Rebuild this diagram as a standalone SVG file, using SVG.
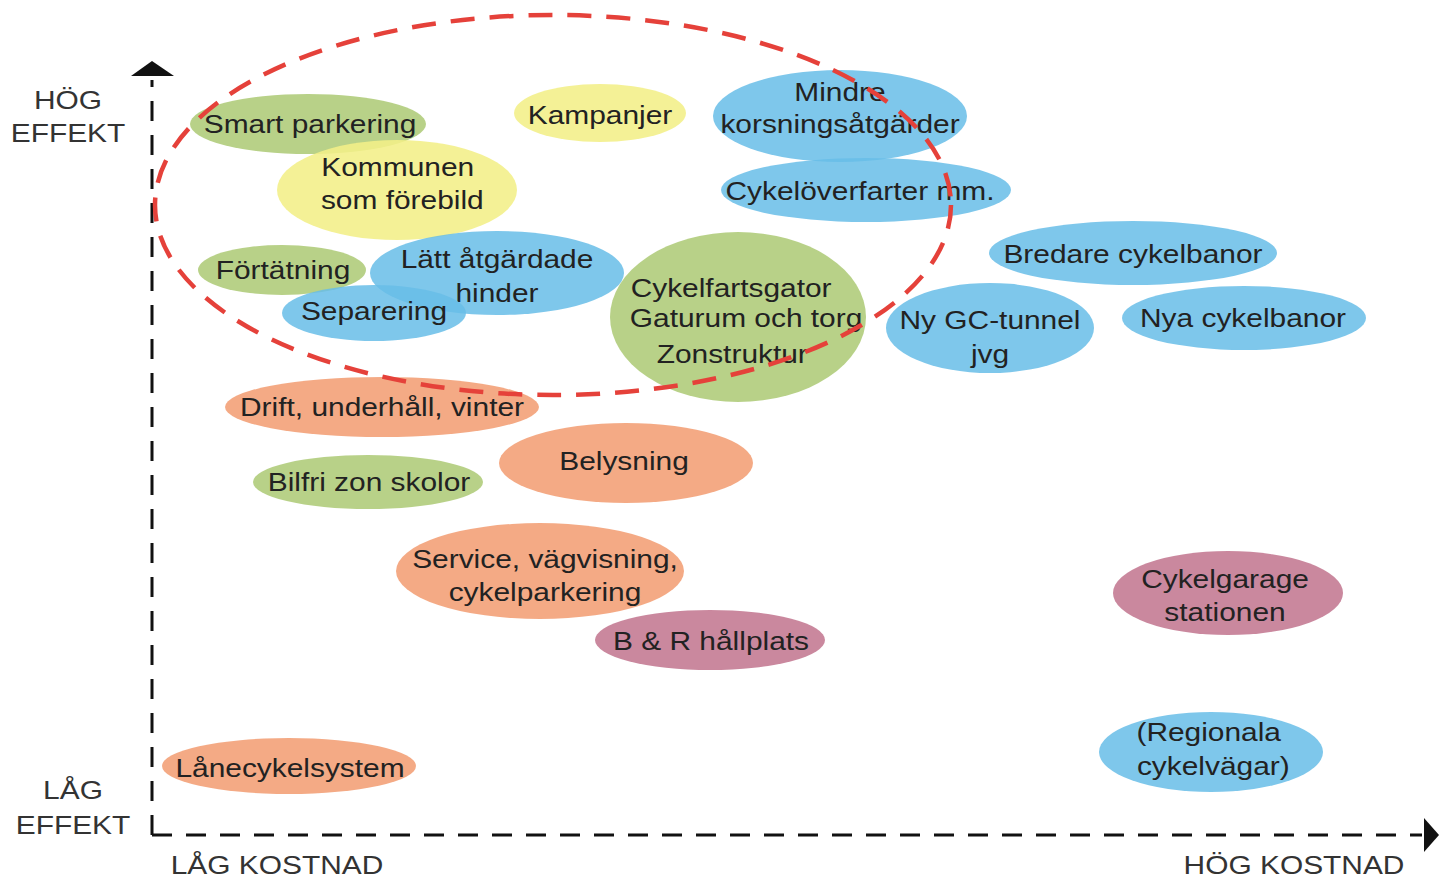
<svg xmlns="http://www.w3.org/2000/svg" width="1439" height="878" viewBox="0 0 1439 878">
<style>
text{font-family:"Liberation Sans",Arial,sans-serif;font-size:26px;fill:#222;text-anchor:middle}
.g{fill:#aecb77;fill-opacity:.88}
.y{fill:#f3ef88;fill-opacity:.88}
.b{fill:#67bde8;fill-opacity:.85}
.o{fill:#f29e74;fill-opacity:.88}
.m{fill:#c47b94;fill-opacity:.9}
.ax{stroke:#111;stroke-width:3;fill:none;stroke-dasharray:20 14}
.lab{fill:#333}
</style>
<rect width="1439" height="878" fill="#fff"/>
<g id="axes">
<line class="ax" x1="152" y1="835" x2="152" y2="80"/>
<line class="ax" x1="152" y1="835" x2="1422" y2="835"/>
<polygon points="131,76 174,76 152,61" fill="#111"/>
<polygon points="1424,818 1424,852 1439,835" fill="#111"/>
<g transform="translate(68,0) scale(1.15,1)"><text class="lab" y="109">HÖG</text><text class="lab" y="142">EFFEKT</text></g>
<g transform="translate(73,0) scale(1.15,1)"><text class="lab" y="799">LÅG</text><text class="lab" y="834">EFFEKT</text></g>
<g transform="translate(277,0) scale(1.15,1)"><text class="lab" y="874">LÅG KOSTNAD</text></g>
<g transform="translate(1294,0) scale(1.15,1)"><text class="lab" y="874">HÖG KOSTNAD</text></g>
</g>
<g id="n-smart"><ellipse class="g" cx="308" cy="124" rx="118" ry="30"/><g transform="translate(310,0) scale(1.15,1)"><text y="133">Smart parkering</text></g></g>
<g id="n-kampanjer"><ellipse class="y" cx="600" cy="113" rx="86" ry="29"/><g transform="translate(600,0) scale(1.15,1)"><text y="124">Kampanjer</text></g></g>
<g id="n-kommunen"><ellipse class="y" cx="397" cy="190" rx="120" ry="50"/><g transform="translate(400,0) scale(1.15,1)"><text x="-2" y="176">Kommunen</text><text x="2" y="209">som förebild</text></g></g>
<g id="n-cykeloverfarter"><ellipse class="b" cx="866" cy="190" rx="145" ry="32"/><g transform="translate(860,0) scale(1.15,1)"><text y="200">Cykelöverfarter mm.</text></g></g>
<g id="n-mindre"><ellipse class="b" cx="840" cy="116" rx="127" ry="46"/><g transform="translate(840,0) scale(1.15,1)"><text y="101">Mindre</text><text y="133">korsningsåtgärder</text></g></g>
<g id="n-fortatning"><ellipse class="g" cx="282" cy="270" rx="84" ry="25"/><g transform="translate(283,0) scale(1.15,1)"><text y="279">Förtätning</text></g></g>
<g id="n-latt"><ellipse class="b" cx="497" cy="273" rx="127" ry="42"/><g transform="translate(497,0) scale(1.15,1)"><text y="268">Lätt åtgärdade</text><text y="302">hinder</text></g></g>
<g id="n-separering"><ellipse class="b" cx="374" cy="313" rx="92" ry="28"/><g transform="translate(374,0) scale(1.15,1)"><text y="320">Separering</text></g></g>
<g id="n-cykelfart"><ellipse class="g" cx="738" cy="317" rx="128" ry="85"/><g transform="translate(738,0) scale(1.15,1)"><text x="-6" y="297">Cykelfartsgator</text><text x="7" y="327">Gaturum och torg</text><text x="-5" y="363">Zonstruktur</text></g></g>
<g id="n-bredare"><ellipse class="b" cx="1133" cy="253" rx="144" ry="32"/><g transform="translate(1133,0) scale(1.15,1)"><text y="263">Bredare cykelbanor</text></g></g>
<g id="n-nygc"><ellipse class="b" cx="990" cy="328" rx="104" ry="45"/><g transform="translate(990,0) scale(1.15,1)"><text y="329">Ny GC-tunnel</text><text y="363">jvg</text></g></g>
<g id="n-nya"><ellipse class="b" cx="1244" cy="318" rx="122" ry="32"/><g transform="translate(1243,0) scale(1.15,1)"><text y="327">Nya cykelbanor</text></g></g>
<g id="n-drift"><ellipse class="o" cx="382" cy="407" rx="157" ry="30"/><g transform="translate(382,0) scale(1.15,1)"><text y="416">Drift, underhåll, vinter</text></g></g>
<g id="n-belysning"><ellipse class="o" cx="626" cy="463" rx="127" ry="40"/><g transform="translate(624,0) scale(1.15,1)"><text y="470">Belysning</text></g></g>
<g id="n-bilfri"><ellipse class="g" cx="368" cy="482" rx="115" ry="27"/><g transform="translate(369,0) scale(1.15,1)"><text y="491">Bilfri zon skolor</text></g></g>
<g id="n-service"><ellipse class="o" cx="540" cy="571" rx="144" ry="48"/><g transform="translate(545,0) scale(1.15,1)"><text y="568">Service, vägvisning,</text><text y="601">cykelparkering</text></g></g>
<g id="n-br"><ellipse class="m" cx="710" cy="640" rx="115" ry="30"/><g transform="translate(711,0) scale(1.15,1)"><text y="650">B &amp; R hållplats</text></g></g>
<g id="n-cykelgarage"><ellipse class="m" cx="1228" cy="593" rx="115" ry="42"/><g transform="translate(1225,0) scale(1.15,1)"><text y="588">Cykelgarage</text><text y="621">stationen</text></g></g>
<g id="n-regionala"><ellipse class="b" cx="1211" cy="752" rx="112" ry="40"/><g transform="translate(1211,0) scale(1.15,1)"><text x="-2" y="741">(Regionala</text><text x="2" y="775">cykelvägar)</text></g></g>
<g id="n-lanecykel"><ellipse class="o" cx="289" cy="766" rx="127" ry="28"/><g transform="translate(290,0) scale(1.15,1)"><text y="777">Lånecykelsystem</text></g></g>
<g id="connectors"></g>
<g id="group-boundary"><ellipse cx="553" cy="205" rx="398" ry="190" fill="none" stroke="#e5413a" stroke-width="4.5" stroke-dasharray="24 15"/></g>
</svg>
